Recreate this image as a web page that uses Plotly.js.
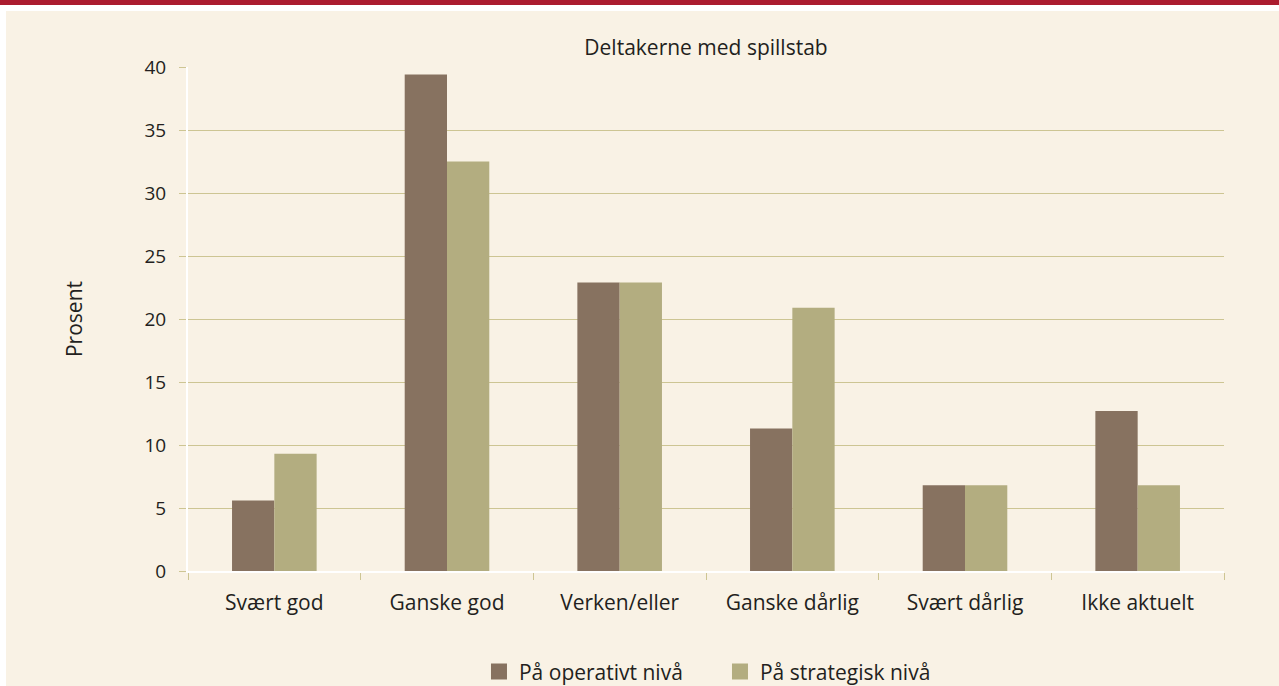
<!DOCTYPE html>
<html>
<head>
<meta charset="utf-8">
<script src="https://cdn.plot.ly/plotly-3.0.1.min.js"></script>
<style>
  html, body { margin: 0; padding: 0; background: #ffffff; width: 1279px; height: 686px; overflow: hidden; }
  #topbar { position: absolute; left: 0; top: 0; width: 1279px; height: 5px; background: #ab1c2f; }
  #chart { position: absolute; left: 6px; top: 11px; width: 1273px; height: 675px; }
</style>
</head>
<body>
<div id="topbar"></div>
<div id="chart"></div>
<script>
const categories = ["Svært god", "Ganske god", "Verken/eller", "Ganske dårlig", "Svært dårlig", "Ikke aktuelt"];
const operativ = [5.6, 39.4, 22.9, 11.3, 6.8, 12.7];
const strategisk = [9.3, 32.5, 22.9, 20.9, 6.8, 6.8];
const seriesNames = ["På operativt nivå", "På strategisk nivå"];
const seriesColors = ["#877260", "#b3ad80"];
const yTicks = [0, 5, 10, 15, 20, 25, 30, 35, 40];

const cream = "#f9f2e5";
const gridCol = "#cdc593";
const textCol = "#231f20";
const fontFam = "'Open Sans', 'Noto Sans', sans-serif";

const traces = [
  { type: "bar", name: seriesNames[0], x: categories, y: operativ, marker: { color: seriesColors[0] }, hoverinfo: "skip", showlegend: false },
  { type: "bar", name: seriesNames[1], x: categories, y: strategisk, marker: { color: seriesColors[1] }, hoverinfo: "skip", showlegend: false },
  // legend-only entries (square swatches)
  { type: "scatter", mode: "markers", name: seriesNames[0], x: [null], y: [null], marker: { symbol: "square", size: 20, color: seriesColors[0] }, hoverinfo: "skip", showlegend: true },
  { type: "scatter", mode: "markers", name: seriesNames[1], x: [null], y: [null], marker: { symbol: "square", size: 20, color: seriesColors[1] }, hoverinfo: "skip", showlegend: true }
];

const layout = {
  width: 1273, height: 675,
  paper_bgcolor: cream, plot_bgcolor: cream,
  margin: { l: 182, r: 55, t: 56, b: 115, autoexpand: false },
  font: { family: fontFam, color: textCol, size: 21 },
  barmode: "group", bargap: 0.51, bargroupgap: 0,
  title: { text: "Deltakerne med spillstab", x: 0.5, xanchor: "center", xref: "paper", y: 1, yref: "paper", yanchor: "bottom", pad: { b: 12 }, font: { size: 21, color: textCol, family: fontFam } },
  xaxis: {
    type: "category", showgrid: false, zeroline: false, automargin: false,
    showline: true, linecolor: "#ffffff", linewidth: 2,
    ticks: "outside", tickson: "boundaries", ticklen: 7, tickcolor: gridCol, tickwidth: 1,
    ticklabelstandoff: 12,
    tickfont: { size: 21, color: textCol, family: fontFam }
  },
  yaxis: {
    range: [0, 40], tickvals: yTicks, ticktext: yTicks.map(String), automargin: false,
    showgrid: true, gridcolor: gridCol, gridwidth: 1, zeroline: false,
    showline: true, linecolor: "#ffffff", linewidth: 2,
    ticks: "outside", ticklen: 7, tickcolor: gridCol, tickwidth: 1,
    ticklabelstandoff: 9,
    tickfont: { size: 19, color: textCol, family: fontFam },
    title: { text: "Prosent", standoff: 56, font: { size: 21, color: textCol, family: fontFam } }
  },
  showlegend: true,
  legend: {
    orientation: "h", x: 0.5135, xanchor: "center", y: -0.2, yanchor: "middle",
    font: { size: 21, color: textCol, family: fontFam },
    bgcolor: "rgba(0,0,0,0)", itemwidth: 30, itemsizing: "trace", traceorder: "normal",
    entrywidth: 196, entrywidthmode: "pixels"
  }
};

Plotly.newPlot("chart", traces, layout, { displayModeBar: false, staticPlot: true });
</script>
</body>
</html>
